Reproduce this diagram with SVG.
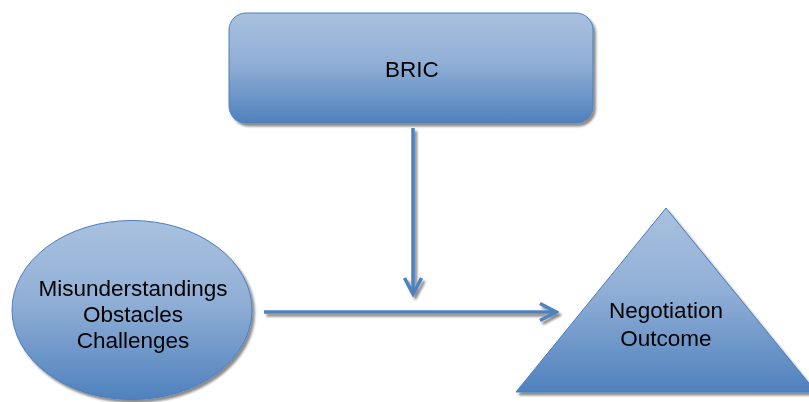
<svg xmlns="http://www.w3.org/2000/svg" width="809" height="402" viewBox="0 0 809 402">
  <defs>
    <linearGradient id="fillGrad" x1="0" y1="0" x2="0" y2="1">
      <stop offset="0" stop-color="#a9c1df"/>
      <stop offset="0.45" stop-color="#91afd6"/>
      <stop offset="1" stop-color="#4f81bd"/>
    </linearGradient>
    <filter id="shadow" x="-10%" y="-10%" width="130%" height="130%">
      <feDropShadow dx="2.5" dy="3" stdDeviation="0.8" flood-color="#000000" flood-opacity="0.45"/>
    </filter>
    <marker id="chev" markerUnits="userSpaceOnUse" viewBox="0 0 22 22" refX="19" refY="11" markerWidth="22" markerHeight="22" orient="auto">
      <path d="M3,2.5 L19,11 L3,19.5" fill="none" stroke="#4f81bd" stroke-width="3.5" stroke-linejoin="miter"/>
    </marker>
  </defs>
  <style>
    .shape { fill: url(#fillGrad); stroke: #4a7ebb; stroke-width: 1; }
    .lbl { font-family: "Liberation Sans", Arial, sans-serif; font-size: 22.5px; fill: #000; text-anchor: middle; }
    .conn { stroke: #4f81bd; stroke-width: 3.5; fill: none; }
  </style>
  <rect width="809" height="402" fill="#ffffff"/>

  <g id="bric" filter="url(#shadow)">
    <rect class="shape" x="229" y="13" width="364" height="110" rx="17" ry="17"/>
    <text class="lbl" x="412" y="77">BRIC</text>
  </g>

  <g id="misunderstandings" filter="url(#shadow)">
    <ellipse class="shape" cx="132" cy="310" rx="120" ry="89.5"/>
    <text class="lbl" x="133" y="296">Misunderstandings</text>
    <text class="lbl" x="133" y="322">Obstacles</text>
    <text class="lbl" x="133" y="348">Challenges</text>
  </g>

  <g id="outcome" filter="url(#shadow)">
    <polygon class="shape" points="666,208 516,392 816,392"/>
    <text class="lbl" x="666" y="318">Negotiation</text>
    <text class="lbl" x="666" y="346">Outcome</text>
  </g>

  <g id="connectors" filter="url(#shadow)">
    <line class="conn" x1="413" y1="128" x2="413" y2="294" marker-end="url(#chev)"/>
    <line class="conn" x1="264" y1="312" x2="556" y2="312" marker-end="url(#chev)"/>
  </g>
</svg>
